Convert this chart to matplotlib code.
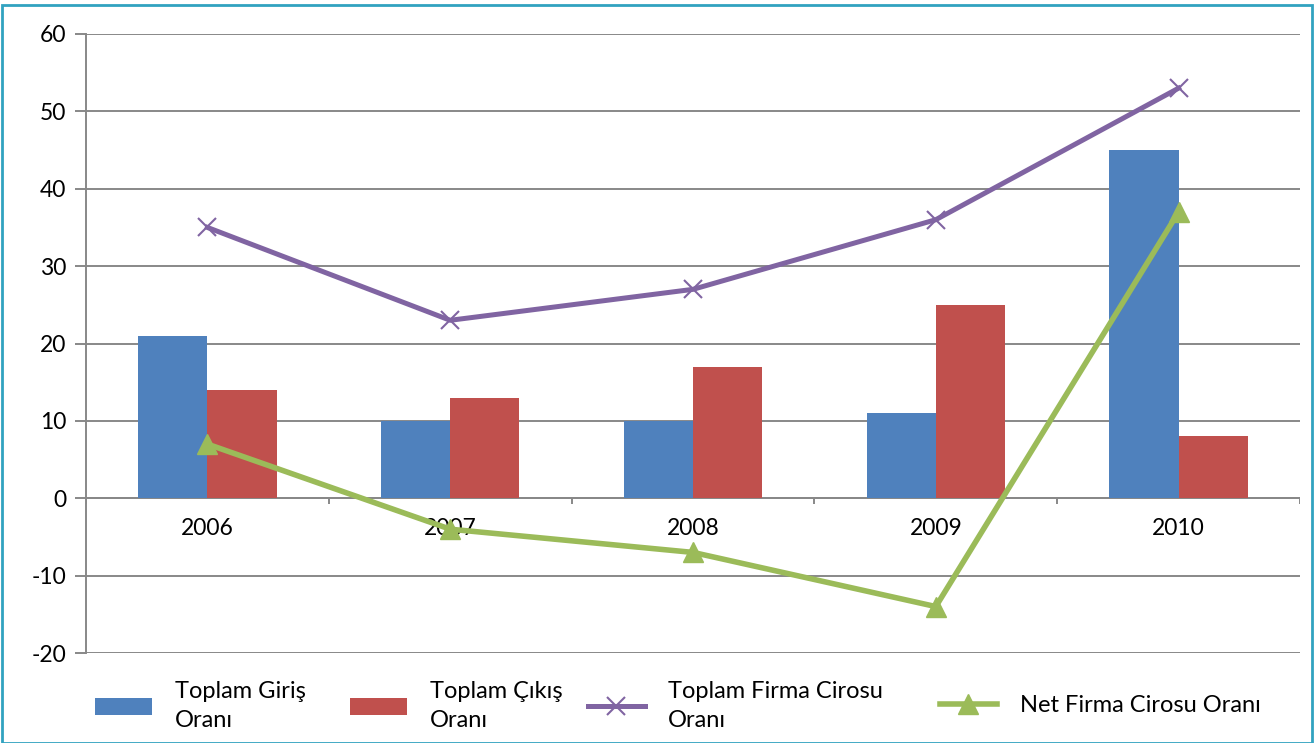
import numpy as np
import matplotlib
matplotlib.use('Agg')
import matplotlib.pyplot as plt
import matplotlib.transforms as mtransforms
from matplotlib.patches import Rectangle

years = ["2006", "2007", "2008", "2009", "2010"]
giris = [21, 10, 10, 11, 45]
cikis = [14, 13, 17, 25, 8]
toplam_ciro = [35, 23, 27, 36, 53]
net_ciro = [7, -4, -7, -14, 37]

labels = ["Toplam Giriş\nOranı", "Toplam Çıkış\nOranı",
          "Toplam Firma Cirosu\nOranı", "Net Firma Cirosu Oranı"]

plt.rcParams['font.family'] = ['Lato', 'DejaVu Sans']
plt.rcParams['axes.unicode_minus'] = False

fig = plt.figure(figsize=(13.16, 7.43), dpi=100)
ax = fig.add_axes([86/1316, 90/743, 1214/1316, 619/743])

x = np.arange(len(years))
w = 0.285
grid_col = '#888888'

b1 = ax.bar(x - w/2, giris, w, color='#4F81BD', zorder=2)
b2 = ax.bar(x + w/2, cikis, w, color='#C0504D', zorder=2)
l1, = ax.plot(x, toplam_ciro, color='#8064A2', lw=3.6, marker='x', ms=13,
              mew=1.5, zorder=4)
l2, = ax.plot(x, net_ciro, color='#9BBB59', lw=4, marker='^', ms=14,
              zorder=5)

ax.set_xlim(-0.5, 4.5)
ax.set_ylim(-20, 60)
ax.set_yticks(range(-20, 61, 10))
ax.yaxis.grid(True, color=grid_col, lw=1.4, zorder=0)
ax.set_axisbelow(True)
ax.set_xticks([])
for s in ['top', 'right', 'bottom']:
    ax.spines[s].set_visible(False)
ax.spines['left'].set_color(grid_col)
ax.spines['left'].set_linewidth(1.4)
ax.tick_params(axis='y', length=8, width=1.4, color=grid_col,
               labelsize=16.5, pad=6)

# category axis at zero
ax.axhline(0, color=grid_col, lw=1.4, zorder=1)
ax.vlines(np.arange(-0.5, 5, 1.0), -0.8, 0, color=grid_col, lw=1.4, zorder=1)
trans = mtransforms.offset_copy(ax.transData, fig=fig, y=-20, units='dots')
for xi, yr in zip(x, years):
    ax.text(xi, 0, yr, transform=trans, ha='center', va='top', fontsize=16.5,
            zorder=3)

# legend entries placed one by one, like the original layout
handles = [b1, b2, l1, l2]
leg_x = [95, 350, 588, 940]
for h, lab, lx in zip(handles, labels, leg_x):
    leg = fig.legend([h], [lab], loc='center left',
                     bbox_to_anchor=(lx/1316, 37/743), frameon=False,
                     fontsize=17, handlelength=2.4, handleheight=0.75,
                     handletextpad=1.0, borderpad=0, borderaxespad=0)
    for t in leg.get_texts():
        t.set_linespacing(1.45)

fig.patches.append(Rectangle((2/1316, 0), 1310/1316, 738/743,
                             transform=fig.transFigure, fill=False,
                             edgecolor='#31A2C0', lw=2))

fig.savefig("out.png", dpi=100)
